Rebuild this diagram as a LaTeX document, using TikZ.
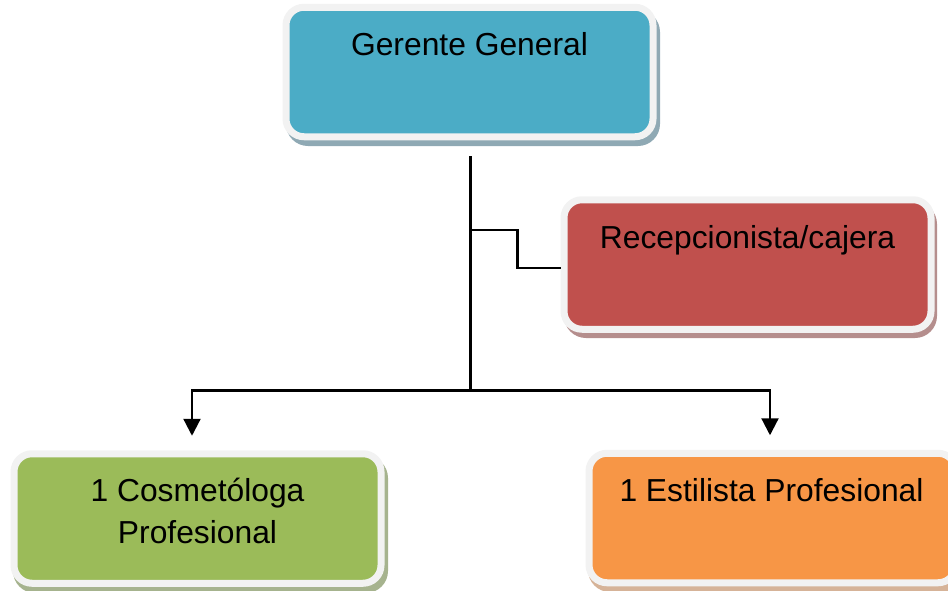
\documentclass[tikz,border=0pt]{standalone}
\usepackage{fontspec}
\setmainfont{Liberation Sans}
\usetikzlibrary{arrows.meta}
\definecolor{ggblue}{HTML}{4BACC6}
\definecolor{rcred}{HTML}{C0504D}
\definecolor{gcgreen}{HTML}{9BBB59}
\definecolor{ocorange}{HTML}{F79646}
\definecolor{framegray}{HTML}{F2F2F2}
\definecolor{shblue}{HTML}{8FA9B4}
\definecolor{shred}{HTML}{B58E8D}
\definecolor{shgreen}{HTML}{A6B38E}
\definecolor{shorange}{HTML}{D6B398}
\begin{document}
\begin{tikzpicture}[x=1pt,y=-1pt,
  orgbox/.style={draw=framegray, line width=7pt, rounded corners=18pt,
    inner sep=0pt, minimum width=367pt, minimum height=129.5pt},
  shadowbox/.style={rounded corners=22pt},
  lbl/.style={anchor=base, inner sep=0pt, align=center,
    font=\fontsize{31.8}{41.3}\selectfont},
  conn/.style={draw=black, line width=2.2pt},
  arr/.style={conn, -{Triangle[width=17pt,length=17pt]}}]
\useasboundingbox (0,0) rectangle (948,590);
\clip (0,0) rectangle (948,590);
% shadows
\fill[shblue, shadowbox] (286,10) rectangle (660,146);
\fill[shred, shadowbox] (564,202) rectangle (937,338);
\fill[shgreen, shadowbox] (13,456) rectangle (388,593);
\fill[shorange, shadowbox] (588,456) rectangle (963,592);
% boxes
\node[orgbox, fill=ggblue] (gg) at (469.5,72) {};
\node[orgbox, fill=rcred] (rc) at (747.5,264.5) {};
\node[orgbox, fill=gcgreen] (gc) at (197.5,518.5) {};
\node[orgbox, fill=ocorange] (oc) at (772.5,518) {};
% labels
\node[lbl] (ggt) at (469.5,55) {Gerente General};
\node[lbl] (rct) at (747.5,248) {Recepcionista/cajera};
\node[lbl] (gct) at (197.5,543) {1 Cosmetóloga\\Profesional};
\node[lbl] (oct) at (771.5,501.7) {1 Estilista Profesional};
% connectors
\coordinate (j) at (470.5,390.5);
\coordinate (b) at (470.5,230);
\draw[conn] ([yshift=-16pt]gg.south -| j) -- (j);
\draw[conn] (b) -- (517.5,230) |- ([yshift=-3.5pt]rc.west);
\draw[arr] (j) -| ([xshift=-5.5pt,yshift=14.5pt]gc.north);
\draw[arr] (j) -| ([xshift=-2.5pt,yshift=14.5pt]oc.north);
\end{tikzpicture}
\end{document}
